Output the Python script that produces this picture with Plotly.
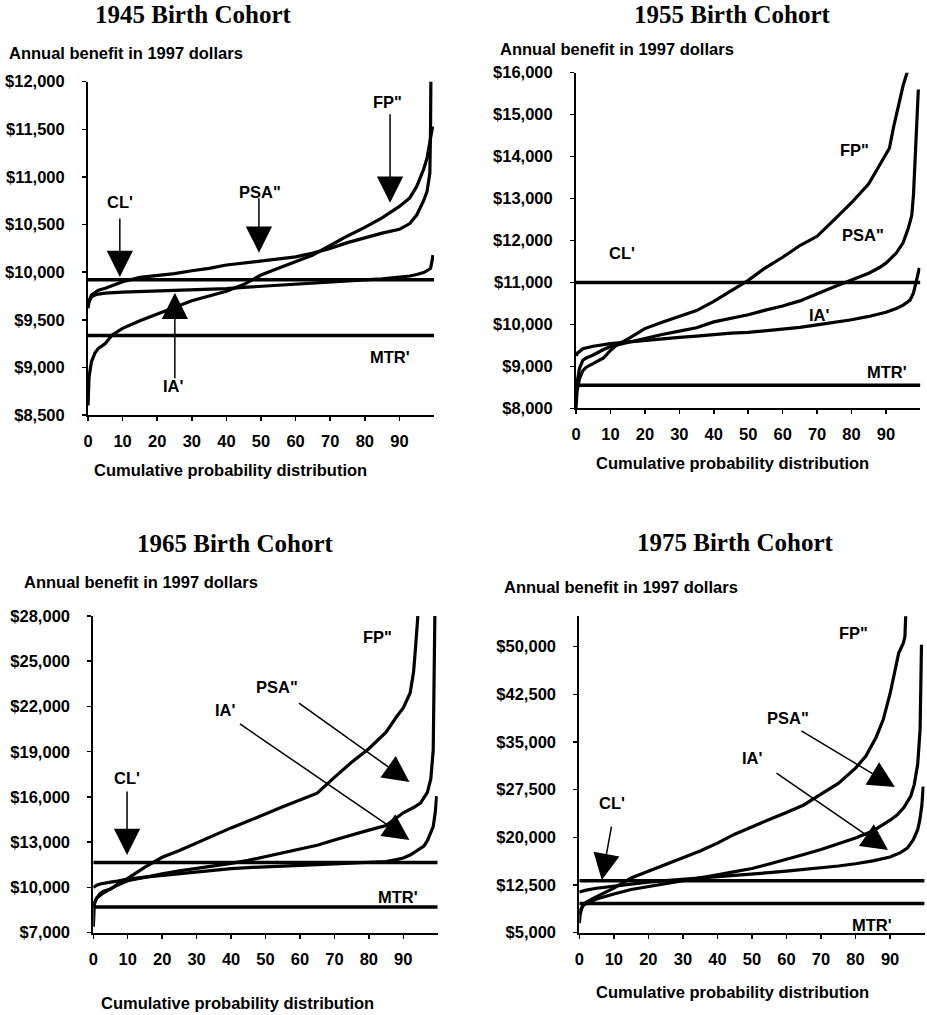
import plotly.graph_objects as go

# ------------------------------------------------------------------ data
x_ticks = [0, 10, 20, 30, 40, 50, 60, 70, 80, 90]

# 1945 birth cohort
fp45_x = [0, 0.3, 1, 2, 3, 5, 7, 10, 15, 20, 25, 30, 35, 40, 45, 50, 55, 60, 65, 70, 75, 80, 85, 90, 93, 95, 97, 98, 99, 99.6]
fp45_y = [8600, 8900, 9060, 9150, 9200, 9250, 9340, 9410, 9490, 9560, 9630, 9700, 9750, 9800, 9870, 9970, 10040, 10110, 10180, 10280, 10380, 10470, 10570, 10690, 10780, 10900, 11080, 11200, 11380, 11530]
psa45_x = [0, 0.3, 1, 2, 3, 5, 7, 10, 15, 20, 25, 30, 35, 40, 45, 50, 55, 60, 65, 70, 75, 80, 85, 90, 93, 95, 97, 98, 98.8, 99.0, 99.1]
psa45_y = [9650, 9700, 9760, 9790, 9810, 9830, 9860, 9900, 9945, 9965, 9985, 10015, 10040, 10075, 10095, 10115, 10135, 10160, 10200, 10250, 10310, 10360, 10410, 10450, 10510, 10600, 10750, 10850, 11040, 11500, 12050]
ia45_x = [0, 0.3, 1, 2, 3, 5, 10, 15, 20, 25, 30, 35, 40, 45, 50, 55, 60, 65, 70, 75, 80, 85, 90, 93, 95, 97, 98, 99, 99.4, 99.7]
ia45_y = [9620, 9690, 9740, 9760, 9770, 9780, 9790, 9795, 9800, 9805, 9810, 9818, 9828, 9840, 9850, 9860, 9870, 9880, 9893, 9905, 9918, 9930, 9948, 9960, 9975, 9995, 10015, 10040, 10110, 10180]
cl45 = 9920
mtr45 = 9335
y_ticks45 = [8500, 9000, 9500, 10000, 10500, 11000, 11500, 12000]

# 1955 birth cohort
fp55_x = [0, 0.3, 1, 2, 3, 5, 8, 10, 12, 15, 17, 20, 25, 30, 35, 40, 45, 50, 55, 60, 65, 70, 75, 80, 85, 89, 91, 92.2, 94, 95, 96.5]
fp55_y = [8000, 8400, 8700, 8900, 8980, 9070, 9200, 9380, 9520, 9650, 9750, 9900, 10050, 10200, 10330, 10550, 10800, 11050, 11350, 11600, 11880, 12100, 12500, 12900, 13350, 13900, 14200, 14700, 15350, 15700, 16100]
psa55_x = [0, 0.3, 1, 2, 3, 5, 8, 10, 15, 20, 25, 30, 35, 40, 45, 50, 55, 60, 65, 70, 75, 80, 85, 88, 90, 93, 95, 96.5, 97.5, 98, 98.9, 99.4]
psa55_y = [8200, 8600, 8950, 9150, 9200, 9270, 9400, 9470, 9570, 9670, 9760, 9840, 9920, 10060, 10140, 10230, 10340, 10440, 10560, 10740, 10900, 11060, 11220, 11350, 11460, 11700, 11950, 12300, 12600, 13100, 14550, 15600]
ia55_x = [0, 0.5, 2, 5, 10, 15, 20, 25, 30, 35, 40, 45, 50, 55, 60, 65, 70, 75, 80, 85, 90, 93, 95, 97, 98, 99, 99.7]
ia55_y = [9250, 9320, 9420, 9480, 9540, 9580, 9620, 9660, 9690, 9720, 9760, 9790, 9810, 9850, 9880, 9930, 9990, 10050, 10110, 10190, 10290, 10380, 10460, 10580, 10750, 11100, 11350]
cl55 = 11000
mtr55 = 8550
y_ticks55 = [8000, 9000, 10000, 11000, 12000, 13000, 14000, 15000, 16000]

# 1965 birth cohort
fp65_x = [0, 0.3, 1, 2, 3, 5, 7, 10, 15, 20, 25, 30, 35, 40, 45, 50, 55, 60, 65, 70, 75, 80, 85, 88, 90, 92, 93, 93.6, 94.4]
fp65_y = [7400, 8900, 9300, 9600, 9750, 9900, 10200, 10600, 11350, 12000, 12450, 12950, 13500, 13950, 14400, 14900, 15350, 15800, 16250, 17300, 18300, 19200, 20300, 21300, 21900, 22900, 24300, 26000, 28500]
psa65_x = [0, 0.3, 1, 2, 3, 5, 7, 10, 15, 20, 25, 30, 35, 40, 45, 50, 55, 60, 65, 70, 75, 80, 85, 90, 93, 95, 97, 98, 98.7, 99.0, 99.2]
psa65_y = [8800, 9000, 9300, 9500, 9650, 9900, 10150, 10450, 10700, 10900, 11100, 11250, 11450, 11600, 11800, 12050, 12250, 12500, 12800, 13150, 13500, 13800, 14100, 14950, 15300, 15600, 16300, 17200, 19100, 23000, 28500]
ia65_x = [0, 1, 2, 3, 5, 7, 10, 15, 20, 25, 30, 35, 40, 45, 50, 55, 60, 65, 70, 75, 80, 85, 88, 90, 92, 94, 96, 97, 98, 98.7, 99.3, 99.7]
ia65_y = [10000, 10150, 10230, 10280, 10350, 10420, 10550, 10680, 10800, 10930, 11050, 11150, 11250, 11320, 11380, 11430, 11480, 11520, 11560, 11600, 11650, 11720, 11850, 11950, 12150, 12450, 12750, 13100, 13600, 14030, 15000, 16050]
cl65 = 11650
mtr65 = 8700
y_ticks65 = [7000, 10000, 13000, 16000, 19000, 22000, 25000, 28000]

# 1975 birth cohort
fp75_x = [0, 0.3, 1, 2, 4, 7, 10, 15, 20, 25, 30, 35, 40, 45, 50, 55, 60, 65, 70, 75, 80, 83, 86, 88, 90, 91.5, 92.5, 93.8, 94.3, 94.6]
fp75_y = [6500, 8000, 9300, 9800, 10400, 11200, 12000, 13600, 14700, 15700, 16800, 17850, 19100, 20500, 21700, 22800, 23900, 25100, 26800, 28500, 30900, 32800, 35800, 38500, 42600, 46500, 49000, 50500, 51600, 56000]
psa75_x = [0, 0.3, 1, 2, 5, 7, 10, 15, 20, 25, 30, 35, 40, 45, 50, 55, 60, 65, 70, 75, 80, 85, 88, 90, 92, 94, 96, 97, 98, 98.7, 99.1]
psa75_y = [8000, 8600, 9200, 9600, 10300, 10650, 11100, 11800, 12250, 12650, 13150, 13650, 14100, 14600, 15100, 15800, 16500, 17300, 18100, 19000, 19900, 21000, 22000, 22700, 23500, 24700, 26500, 28300, 31500, 37000, 50300]
ia75_x = [0, 1, 2, 5, 10, 15, 20, 25, 30, 35, 40, 45, 50, 55, 60, 65, 70, 75, 80, 85, 90, 93, 95, 96.7, 98, 98.6, 99.2, 99.6]
ia75_y = [11400, 11600, 11700, 12000, 12350, 12650, 12950, 13200, 13400, 13600, 13750, 13950, 14200, 14450, 14700, 14950, 15200, 15500, 15850, 16300, 16900, 17600, 18300, 19600, 21200, 22700, 25000, 28000]
cl75 = 13180
mtr75 = 9600
y_ticks75 = [5000, 12500, 20000, 27500, 35000, 42500, 50000]

titles = ["1945 Birth Cohort", "1955 Birth Cohort", "1965 Birth Cohort", "1975 Birth Cohort"]
y_title = "Annual benefit in 1997 dollars"
x_title = "Cumulative probability distribution"

# ------------------------------------------------------------------ layout config
W, H = 927, 1015
SANS = "Liberation Sans, Arial, sans-serif"
SERIF = "Liberation Serif, Times New Roman, serif"


def fx(px):
    return px / W


def fy(py):
    return 1 - py / H


panels = [
    dict(series=[(fp45_x, fp45_y), (psa45_x, psa45_y), (ia45_x, ia45_y)], cl=cl45, mtr=mtr45,
         yticks=y_ticks45, yrange=[8500, 12000],
         px=(88, 434), py=(81.7, 415),
         title=(193, 15), ytitle=(7, 53), xtitle=(230, 470)),
    dict(series=[(fp55_x, fp55_y), (psa55_x, psa55_y), (ia55_x, ia55_y)], cl=cl55, mtr=mtr55,
         yticks=y_ticks55, yrange=[8000, 16000],
         px=(576, 920.4), py=(72.7, 408.3),
         title=(732, 15), ytitle=(498, 49), xtitle=(732, 463)),
    dict(series=[(fp65_x, fp65_y), (psa65_x, psa65_y), (ia65_x, ia65_y)], cl=cl65, mtr=mtr65,
         yticks=y_ticks65, yrange=[7000, 28000],
         px=(93.3, 437.7), py=(616, 932.7),
         title=(235, 543), ytitle=(22, 582), xtitle=(237, 1003)),
    dict(series=[(fp75_x, fp75_y), (psa75_x, psa75_y), (ia75_x, ia75_y)], cl=cl75, mtr=mtr75,
         yticks=y_ticks75, yrange=[5000, 54800],
         px=(579.3, 924.6), py=(616.2, 932.7),
         title=(735, 542), ytitle=(502, 587), xtitle=(732, 992)),
]

# series labels: (text, x, y) in data units of each panel
labels = [
    [("CL'", 9.2, 10740), ('PSA"', 49.7, 10845), ('FP"', 86.7, 11790), ("IA'", 24.6, 8800), ("MTR'", 87.3, 9112)],
    [('FP"', 81, 14165), ('PSA"', 83.3, 12140), ("CL'", 13.3, 11710), ("IA'", 70.8, 10230), ("MTR'", 90.3, 8870)],
    [('FP"', 82.4, 26610), ('PSA"', 53.3, 23290), ("IA'", 38.3, 21770), ("CL'", 9.8, 17260), ("MTR'", 88.6, 9370)],
    [('FP"', 79.3, 52140), ('PSA"', 60.4, 38770), ("IA'", 50.3, 32480), ("CL'", 9.4, 25400), ("MTR'", 84.7, 6210)],
]
# arrows: (tip x, tip y, tail dx px, tail dy px)
arrows = [
    [(9.2, 9950, 0, -60), (49.4, 10205, 0, -56), (87.3, 10730, 0, -90), (25.1, 9785, 0, 87)],
    [],
    [(9.8, 12155, 0, -65), (91.8, 16990, -112, -80), (91.8, 13150, -171, -117)],
    [(6.5, 13290, 10, -55), (91.4, 27920, -95, -57), (89.4, 18010, -113, -78)],
]

fig = go.Figure()
annotations = []
layout = dict(template="none", width=W, height=H,
              margin=dict(l=0, r=0, t=0, b=0, autoexpand=False),
              paper_bgcolor="white", plot_bgcolor="white", showlegend=False)

tickfont = dict(family=SANS, size=16.5, color="black", weight="bold")
labfont = dict(family=SANS, size=16.5, color="black", weight="bold")

for i, p in enumerate(panels, start=1):
    xa = "x" if i == 1 else f"x{i}"
    ya = "y" if i == 1 else f"y{i}"
    xkey = "xaxis" if i == 1 else f"xaxis{i}"
    ykey = "yaxis" if i == 1 else f"yaxis{i}"
    dx = [fx(p["px"][0]), fx(p["px"][1])]
    dy = [fy(p["py"][1]), fy(p["py"][0])]
    layout[xkey] = dict(domain=dx, anchor=ya, range=[0, 100], tickvals=x_ticks,
                        ticktext=[str(v) for v in x_ticks], automargin=False,
                        showgrid=False, zeroline=False, showline=True, linecolor="black",
                        linewidth=2, ticks="outside", ticklen=4, tickwidth=1.5, tickcolor="black",
                        tickfont=tickfont, ticklabelstandoff=6, fixedrange=True)
    layout[ykey] = dict(domain=dy, anchor=xa, range=p["yrange"], tickvals=p["yticks"],
                        ticktext=["$" + f"{v:,}" for v in p["yticks"]], automargin=False,
                        showgrid=False, zeroline=False, showline=True, linecolor="black",
                        linewidth=2, ticks="outside", ticklen=4, tickwidth=1.5, tickcolor="black",
                        tickfont=tickfont, ticklabelstandoff=14, fixedrange=True)
    for sx, sy in p["series"]:
        fig.add_trace(go.Scatter(x=sx, y=sy, mode="lines", xaxis=xa, yaxis=ya,
                                 line=dict(color="black", width=3.2), hoverinfo="skip"))
    for lvl in (p["cl"], p["mtr"]):
        fig.add_trace(go.Scatter(x=[0, 100], y=[lvl, lvl], mode="lines", xaxis=xa, yaxis=ya,
                                 line=dict(color="black", width=3.6), hoverinfo="skip"))
    # titles
    annotations.append(dict(text=f"<b>{titles[i-1]}</b>", xref="paper", yref="paper",
                            x=fx(p["title"][0]), y=fy(p["title"][1]), showarrow=False,
                            xanchor="center", yanchor="middle",
                            font=dict(family=SERIF, size=25, color="black")))
    annotations.append(dict(text=y_title, xref="paper", yref="paper",
                            x=fx(p["ytitle"][0]), y=fy(p["ytitle"][1]), showarrow=False,
                            xanchor="left", yanchor="middle", font=labfont))
    annotations.append(dict(text=x_title, xref="paper", yref="paper",
                            x=fx(p["xtitle"][0]), y=fy(p["xtitle"][1]), showarrow=False,
                            xanchor="center", yanchor="middle", font=labfont))
    for txt, lx, ly in labels[i - 1]:
        annotations.append(dict(text=txt, xref=xa, yref=ya, x=lx, y=ly, showarrow=False,
                                xanchor="center", yanchor="middle", font=labfont))
    for tx, ty, adx, ady in arrows[i - 1]:
        annotations.append(dict(text="", xref=xa, yref=ya, x=tx, y=ty, ax=adx, ay=ady,
                                showarrow=True, arrowhead=2, arrowsize=3.5, arrowwidth=1.5,
                                arrowcolor="black"))

layout["annotations"] = annotations
fig.update_layout(**layout)
# remove the browser's default 8px page margin so the figure fills the window exactly
fig.write_html("out.html", config={"displayModeBar": False, "staticPlot": True},
               post_script="document.body.style.margin='0';document.body.style.overflow='hidden';")
